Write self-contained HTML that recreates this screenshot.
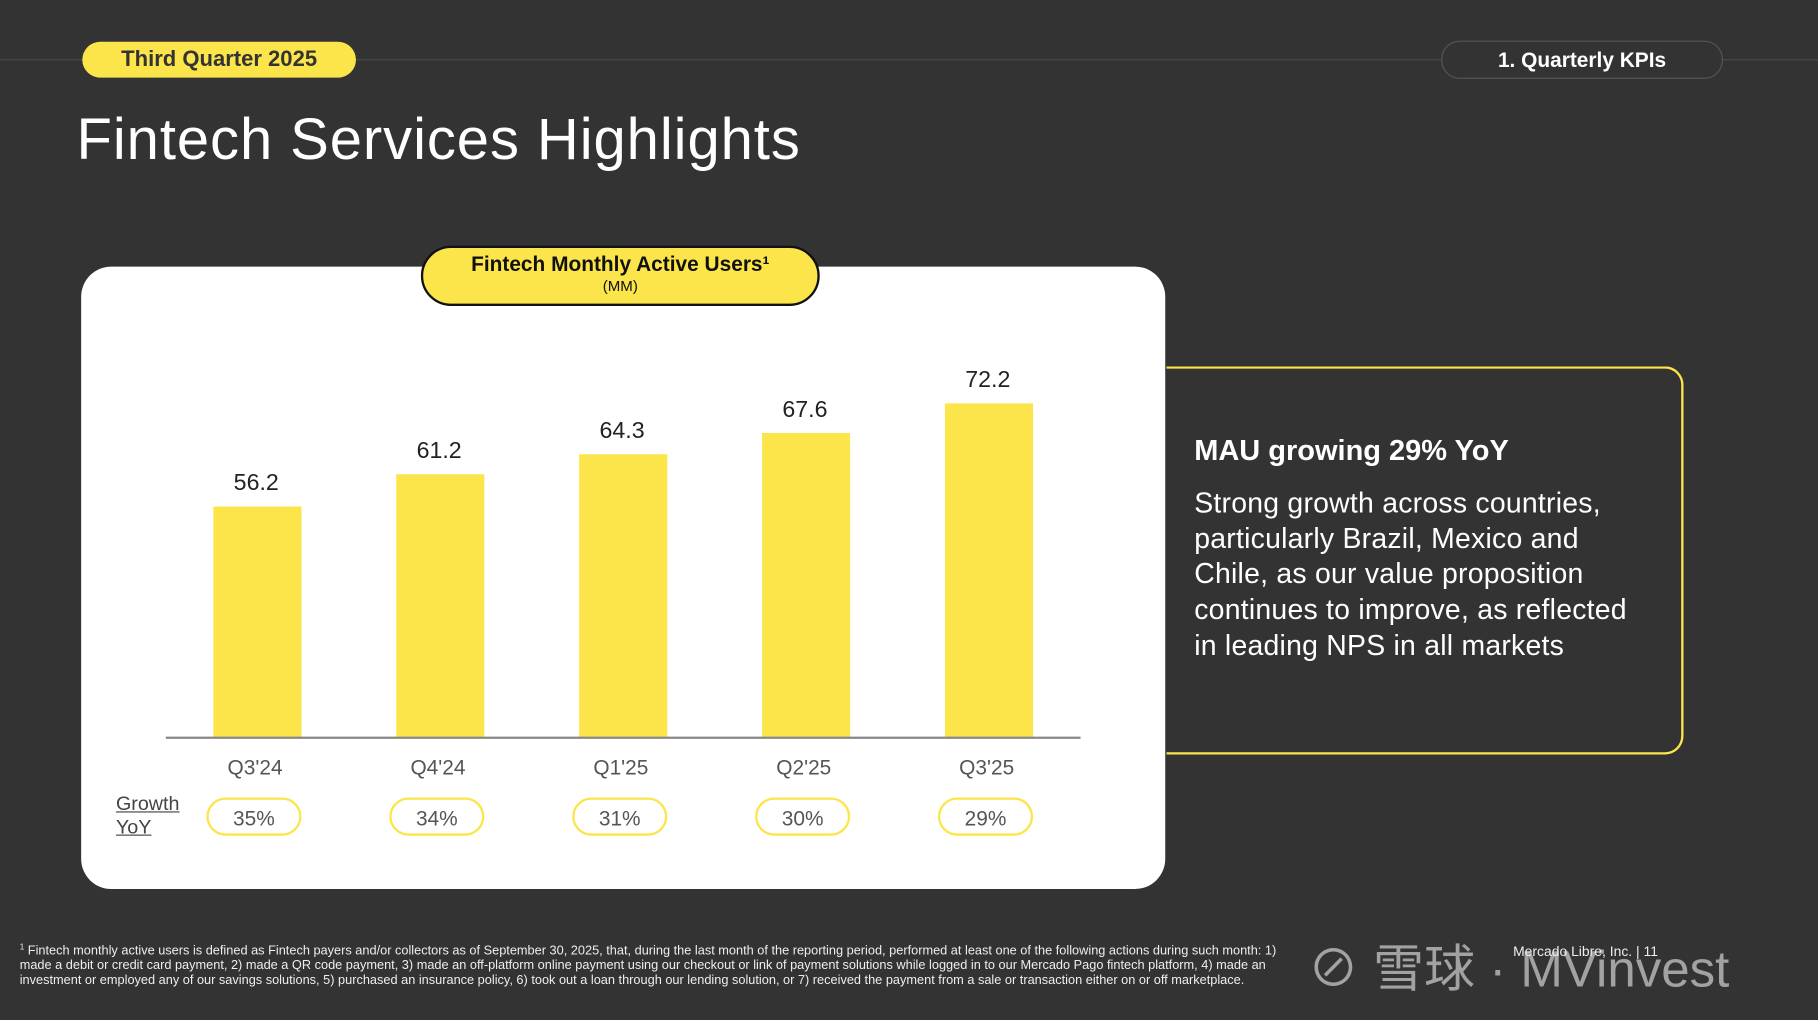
<!DOCTYPE html>
<html><head><meta charset="utf-8"><style>
html,body{margin:0;padding:0;background:#333333;width:1818px;height:1020px;overflow:hidden}
#s{position:absolute;left:0;top:0;width:1568px;height:880px;transform:scale(1.15944,1.15909);transform-origin:0 0;font-family:"Liberation Sans",sans-serif;color:#fff}
.abs{position:absolute}
</style></head><body>
<div id="s">
<div class="abs" style="left:0;top:51px;width:1568px;height:1px;background:#4a4a4a"></div>
<div class="abs" style="left:71px;top:36px;width:236px;height:31px;border-radius:16px;background:#fce54a;color:#333;font-weight:bold;font-size:19px;line-height:31px;text-align:center">Third Quarter 2025</div>
<div class="abs" style="left:1243px;top:35px;width:241px;height:31px;border-radius:16px;border:1px solid #555;background:#333;font-weight:bold;font-size:18px;line-height:33px;text-align:center">1. Quarterly KPIs</div>
<div class="abs" style="left:66px;top:91px;font-size:50px;letter-spacing:0.8px">Fintech Services Highlights</div>
<div class="abs" style="left:70px;top:230px;width:935px;height:537px;border-radius:26px;background:#fff"></div>
<div class="abs" style="left:1006px;top:316px;width:444px;height:331px;border:2px solid #fce54a;border-left:none;border-radius:0 16px 16px 0"></div>
<div class="abs" style="left:1030px;top:375px;font-size:25px;font-weight:bold">MAU growing 29% YoY</div>
<div class="abs" style="left:1030px;top:420px;width:420px;font-size:24.5px;line-height:30.7px;white-space:nowrap;letter-spacing:0.2px">Strong growth across countries,<br>particularly Brazil, Mexico and<br>Chile, as our value proposition<br>continues to improve, as reflected<br>in leading NPS in all markets</div>
<svg class="abs" id="chart" style="left:0;top:0" width="1568" height="880"></svg>
<div class="abs" style="left:363px;top:212px;width:340px;height:48px;border:2px solid #111;border-radius:26px;background:#fce54a;color:#111;text-align:center">
<div style="font-weight:bold;font-size:18px;margin-top:4px">Fintech Monthly Active Users¹</div><div style="font-size:13px">(MM)</div></div>
<div class="abs" style="left:100px;top:684px;color:#444;font-size:17px;line-height:20px"><span style="text-decoration:underline">Growth </span><br><span style="text-decoration:underline">YoY</span></div>
<div class="abs" style="left:17px;top:812px;width:1100px;font-size:11px;line-height:12.5px;color:#eee;white-space:nowrap"><sup style="font-size:7px">1</sup> Fintech monthly active users is defined as Fintech payers and/or collectors as of September 30, 2025, that, during the last month of the reporting period, performed at least one of the following actions during such month: 1)<br>made a debit or credit card payment, 2) made a QR code payment, 3) made an off-platform online payment using our checkout or link of payment solutions while logged in to our Mercado Pago fintech platform, 4) made an<br>investment or employed any of our savings solutions, 5) purchased an insurance policy, 6) took out a loan through our lending solution, or 7) received the payment from a sale or transaction either on or off marketplace.</div>
<div class="abs" style="left:1128px;top:800px;font-size:44px;color:rgba(200,200,200,0.75);font-family:'Liberation Sans','Noto Sans CJK SC',sans-serif;white-space:nowrap">⊘ 雪球 · MVinvest</div>
<div class="abs" style="left:1305px;top:814px;font-size:12px;color:#eee">Mercado Libre, Inc. | 11</div>
</div>
<script>
const categories=["Q3'24","Q4'24","Q1'25","Q2'25","Q3'25"];
const mauValues=[56.2,61.2,64.3,67.6,72.2];
const growthLabels=["35%","34%","31%","30%","29%"];
const svg=document.getElementById('chart');const NS='http://www.w3.org/2000/svg';
const yMin=20.4,baseY=636,pxPer=5.56;
function y(v){return baseY-(v-yMin)*pxPer;}
function x(i){return 222+i*157.75;}
function mk(t,a){const e=document.createElementNS(NS,t);for(const k in a)e.setAttribute(k,a[k]);svg.appendChild(e);return e;}
categories.forEach((c,i)=>{
 const r=mk('rect',{x:x(i)-38,y:y(mauValues[i]),width:76,height:baseY-y(mauValues[i]),fill:'#fce54a'});
 
 
 const t=mk('text',{x:x(i)-1,y:y(mauValues[i])-14,'text-anchor':'middle','font-size':20,fill:'#222','font-family':'Liberation Sans'});t.textContent=mauValues[i].toFixed(1);
 
 
 const l=mk('text',{x:x(i)-2,y:668,'text-anchor':'middle','font-size':18,fill:'#555','font-family':'Liberation Sans'});l.textContent=c;
 
 
 const p=mk('rect',{x:x(i)-43,y:689,width:80,height:31,rx:15.5,fill:'#fff',stroke:'#fce54a','stroke-width':2});
 
 
 const g=mk('text',{x:x(i)-3,y:712,'text-anchor':'middle','font-size':18,fill:'#555','font-family':'Liberation Sans'});g.textContent=growthLabels[i];
 
 
});
const ax=mk('line',{x1:143,x2:932,y1:636.5,y2:636.5,stroke:'#888','stroke-width':2});


</script>
</body></html>
